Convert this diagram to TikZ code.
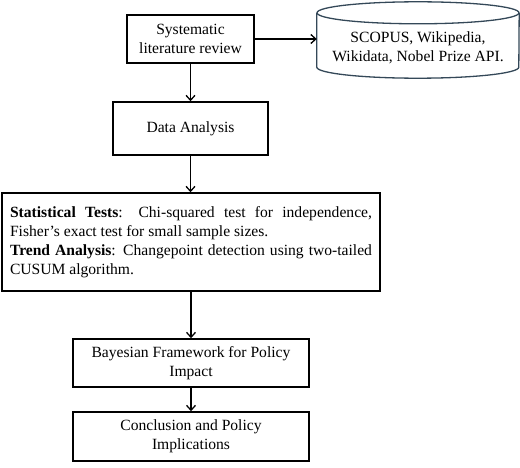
\documentclass[tikz,border=0pt]{standalone}
\usepackage{fontspec}
\setmainfont{Liberation Serif}
\usetikzlibrary{arrows.meta}
\definecolor{cylcol}{RGB}{52,72,88}
\tikzset{
  txt/.style={font=\fontsize{15.6}{19}\selectfont},
  box/.style={txt, draw=black, line width=1.5pt, align=center, inner sep=3pt},
  conn/.style={line width=1.4pt, -{Straight Barb[length=5pt,width=9pt,line width=1.3pt]}},
}
\begin{document}
\begin{tikzpicture}[x=1pt,y=-1pt]
\useasboundingbox (0,0) rectangle (520,468);
\node[box, minimum width=127pt, minimum height=48pt] (slr) at (190.5,39) {Systematic\\literature review};
\node[minimum width=202pt, minimum height=76pt, inner sep=0pt] (cyl) at (418,40) {};
\draw[cylcol, line width=1.3pt] ([yshift=-11pt]cyl.north) ellipse [x radius=101pt, y radius=11pt];
\draw[cylcol, line width=1.3pt] ([yshift=-11pt]cyl.north west) -- ([yshift=11pt]cyl.south west) arc[start angle=180, end angle=360, x radius=101pt, y radius=11pt] -- ([yshift=-11pt]cyl.north east);
\node[txt, align=center, inner sep=0pt] (cyltext) at (418,48) {SCOPUS, Wikipedia,\\Wikidata, Nobel Prize API.};
\node[box, minimum width=155pt, minimum height=53pt] (da) at (190.5,128.5) {Data Analysis};
\node[box, minimum width=378pt, minimum height=98pt, text width=362pt, align=justify, inner sep=8pt] (st) at (191,242) {\textbf{Statistical Tests}: Chi-squared test for independence,\linebreak Fisher’s exact test for small sample sizes.\\\textbf{Trend Analysis}: Changepoint detection using two-tailed\linebreak CUSUM algorithm.};
\node[box, minimum width=236pt, minimum height=48pt] (bf) at (191,363) {Bayesian Framework for Policy\\Impact};
\node[box, minimum width=236pt, minimum height=49pt] (cp) at (191,436.5) {Conclusion and Policy\\Implications};
\draw[conn] (slr.east) -- (cyl.west |- slr.east);
\draw[conn] (slr.south) -- (da.north);
\draw[conn] (da.south) -- (da.south |- st.north);
\draw[conn] (st.south -| bf.north) -- (bf.north);
\draw[conn] (bf.south) -- (cp.north);
\end{tikzpicture}
\end{document}
